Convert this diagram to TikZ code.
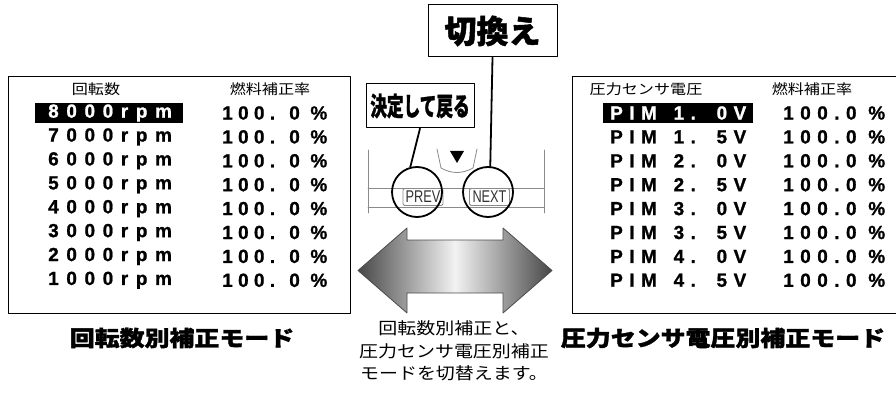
\documentclass[tikz,border=0pt]{standalone}
\usepackage{fontspec}
\setmainfont{Liberation Sans}
\newfontfamily\jp{Noto Sans CJK JP}[BoldFeatures={FakeBold=1.5}]
\newfontfamily\jpw{Noto Sans CJK JP}[FakeStretch=1.15]
\newfontfamily\jpt{Noto Sans CJK JP}[FakeStretch=1.16, BoldFeatures={FakeBold=1.5}]
\newfontfamily\jpn{Noto Sans CJK JP}[FakeStretch=0.64, BoldFeatures={FakeBold=1}]
\newfontfamily\lcdrpm{Liberation Sans}[LetterSpace=40, FakeBold=1]
\newfontfamily\lcdpct{Liberation Sans}[LetterSpace=28, FakeBold=1]
\newfontfamily\lcdpim{Liberation Sans}[LetterSpace=34, FakeBold=1]
\newfontfamily\keyfont{Liberation Sans}[FakeStretch=0.75]
\usetikzlibrary{arrows.meta,shapes,positioning}
\definecolor{keygray}{HTML}{8A8A8A}
\tikzset{
  every picture/.style={line join=round, line cap=round},
  frame/.style={line width=1pt},
  hdr/.style={font=\jpw\fontsize{14}{14}\selectfont, inner sep=0pt},
  cell/.style={font=\bfseries\fontsize{19}{19}\selectfont, anchor=west, inner sep=0pt},
  sel/.style={text=white},
  title/.style={font=\jpt\bfseries\fontsize{21.5}{22}\selectfont, inner sep=0pt},
  note/.style={font=\jpw\fontsize{16.5}{22.5}\selectfont, align=center, inner sep=0pt},
  callout/.style={draw, frame, fill=white, inner sep=0pt},
  btn/.style={circle, draw, line width=1.8pt, minimum size=50pt, inner sep=0pt},
  keylabel/.style={draw=keygray, line width=0.9pt, rounded corners=1.5pt, fill=white, text=black!80,
    font=\keyfont\fontsize{17}{17}\selectfont, minimum width=40pt, minimum height=17pt, inner sep=0pt},
  keyline/.style={draw=keygray, line width=0.8pt},
  lead/.style={line width=1.8pt},
}
\newcommand\pimrow[2]{\lcdpim PIM\hspace{5pt} #1.\hspace{5pt} #2V}
\begin{document}
\begin{tikzpicture}[x=1pt, y=-1pt]
\useasboundingbox (0,0) rectangle (896,398);
% left panel
\draw[frame] (8,77) rectangle (350,313);
\node[hdr] (lhead1) at (96,89) {回転数};
\node[hdr] (lhead2) at (270,89) {燃料補正率};
\fill (35,103) rectangle (183,123);
\foreach \r [count=\i from 0] in {8000rpm,7000rpm,6000rpm,5000rpm,4000rpm,3000rpm,2000rpm,1000rpm}{
  \ifnum\i=0
    \node[cell, sel] (rpm\i) at (48,{113+23.9*\i}) {\lcdrpm\r};
  \else
    \node[cell] (rpm\i) at (48,{113+23.9*\i}) {\lcdrpm\r};
  \fi
  \node[cell] (lpct\i) at (222,{113+23.9*\i}) {\lcdpct 100. 0 \%};
}
\node[title] (ltitle) at (182,338) {回転数別補正モード};
% right panel
\draw[frame] (896,77) -- (572,77) -- (572,313) -- (896,313);
\node[hdr] (rhead1) at (646,89) {圧力センサ電圧};
\node[hdr] (rhead2) at (812,89) {燃料補正率};
\fill (603,103) rectangle (753,123);
\foreach \a/\b [count=\i from 0] in {1/0,1/5,2/0,2/5,3/0,3/5,4/0,4/5}{
  \ifnum\i=0
    \node[cell, sel] (pim\i) at (610,{113+23.9*\i}) {\pimrow{\a}{\b}};
  \else
    \node[cell] (pim\i) at (610,{113+23.9*\i}) {\pimrow{\a}{\b}};
  \fi
  \node[cell] (rpct\i) at (783,{113+23.9*\i}) {\lcdpim 100.0 \%};
}
\node[title] (rtitle) at (723,338) {圧力センサ電圧別補正モード};
% key panel
\draw[keyline] (368,150) -- (368,213) (544,150) -- (544,213)
  (368,188) -- (544,188) (368,207) -- (544,207);
\draw[keyline] (437,149) -- (441,168) .. controls (452,174) and (462,174) .. (473,168) -- (477,149);
\fill (450,151) -- (464,151) -- (457,163) -- cycle;
\node[keylabel] (prevkey) at (423,197) {PREV};
\node[keylabel] (nextkey) at (489.5,197) {NEXT};
\node[btn] (prev) at (417,192) {};
\node[btn] (next) at (488,192) {};
% callouts
\node[callout, minimum width=129pt, minimum height=52pt, font=\jp\bfseries\fontsize{32}{32}\selectfont] (kirikae) at (492.5,31) {切換え};
\node[callout, minimum width=108pt, minimum height=44pt, font=\jpn\bfseries\fontsize{26}{26}\selectfont] (kettei) at (420,106) {決定して戻る};
\draw[lead] (kettei.south) -- (prev.105);
\draw[lead] (kirikae.south) -- (next.85);
% double arrow
\draw[draw=black!70, line width=0.8pt, left color=black!72, right color=black!72, middle color=black!5]
  (358,270.5) -- (407,228) -- (407,240) -- (503,240) -- (503,228) -- (552,270.5)
  -- (503,313) -- (503,293) -- (407,293) -- (407,313) -- cycle;
\node[note] (explain) at (454,351) {回転数別補正と、\\圧力センサ電圧別補正\\モードを切替えます。};
\end{tikzpicture}
\end{document}
